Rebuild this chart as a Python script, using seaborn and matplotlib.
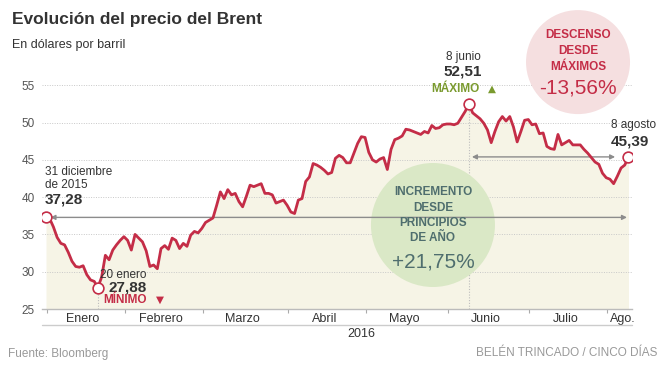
import numpy as np
import pandas as pd
import seaborn as sns
import matplotlib.pyplot as plt
from matplotlib.patches import Ellipse

# precio del Brent, un valor por dia habil (31 dic 2015 - 8 ago 2016)
fechas = pd.bdate_range('2015-12-31', '2016-08-08')
brent = [37.28, 37.1, 36.0, 34.6, 33.8, 33.6, 32.6, 31.4, 30.7, 30.6,
         30.8, 29.6, 28.9, 28.7, 27.88, 29.3, 32.2, 31.6, 32.9, 33.6,
         34.2, 34.7, 34.2, 32.9, 35.0, 34.5, 34.0, 32.8, 30.7, 30.9,
         30.4, 33.1, 33.5, 33.0, 34.5, 34.2, 33.1, 33.8, 33.4, 34.9,
         35.4, 35.2, 35.8, 36.6, 36.9, 37.2, 38.9, 40.7, 39.8, 41.0,
         40.3, 40.5, 39.4, 38.7, 40.1, 41.6, 41.4, 41.6, 41.8, 40.5,
         40.5, 40.3, 39.2, 39.4, 39.6, 38.9, 38.0, 37.8, 39.6, 39.8,
         42.1, 42.7, 44.5, 44.3, 44.0, 43.6, 43.1, 43.3, 45.2, 45.6,
         45.3, 44.6, 44.6, 45.9, 47.2, 48.1, 48.0, 46.0, 45.0, 44.7,
         45.1, 45.3, 43.7, 46.4, 47.7, 47.9, 48.2, 49.1, 49.0, 48.8,
         48.6, 48.4, 48.8, 48.6, 49.6, 49.2, 49.3, 49.7, 49.8, 49.8,
         49.7, 49.9, 50.7, 51.5, 52.51, 51.3, 50.9, 50.5, 49.9, 49.0,
         47.3, 48.8, 50.1, 50.8, 50.2, 50.8, 49.4, 47.4, 48.8, 50.3,
         50.4, 49.7, 49.8, 48.5, 48.6, 46.8, 46.5, 46.4, 48.4, 47.0,
         47.3, 47.6, 47.0, 47.0, 47.0, 46.4, 45.9, 45.3, 44.7, 44.4,
         43.2, 42.6, 42.4, 41.8, 42.8, 43.9, 44.3, 45.39]
meses = ['Enero', 'Febrero', 'Marzo', 'Abril', 'Mayo', 'Junio', 'Julio', 'Ago.']
yticks = [25, 30, 35, 40, 45, 50, 55]

df = pd.DataFrame({'fecha': fechas, 'brent': brent})
df['idx'] = np.arange(len(df))
df['mes'] = df['fecha'].dt.month
df['anio'] = df['fecha'].dt.year

ROJO = '#c42d47'
VERDE = '#7a9a2e'
TEAL = '#4f6e6e'
GRIS = '#333333'
NARROW = ['Liberation Sans Narrow', 'Liberation Sans', 'DejaVu Sans']
WIDE = ['Liberation Sans', 'DejaVu Sans']

sns.set_style('white')
plt.rcParams['font.family'] = NARROW

fig = plt.figure(figsize=(6.64, 3.65), dpi=100)
ax = fig.add_axes([42 / 664, 1 - 309 / 365, 590 / 664, 234 / 365])


def ftext(x, y, s, **kw):
    kw.setdefault('va', 'baseline')
    kw.setdefault('color', GRIS)
    fig.text(x / 664, 1 - y / 365, s, **kw)


ax.fill_between(df['idx'], df['brent'], 25, color='#f6f4e6', lw=0, zorder=1)
for v in yticks[1:]:
    ax.axhline(v, color='#c8c8c8', lw=0.7, ls=(0, (1, 1.5)), zorder=2)

# circulo verde (incremento)
ax.add_patch(Ellipse((104.3, 36.26), 124 / 3.71, 124 / 7.46, color='#dae8c6', lw=0, zorder=3))
# circulo rosa (descenso)
ax.add_patch(Ellipse((143.4, 58.1), 104 / 3.71, 104 / 7.46, color='#f5dfe0', lw=0,
                     zorder=3, clip_on=False))

i_min = int(df['brent'].idxmin())
i_max = int(df['brent'].idxmax())
ini = df.iloc[0]
fin = df.iloc[-1]

ax.vlines([i_min], 25, df['brent'][i_min] - 0.7, color='#bdbdbd', lw=0.8, ls=(0, (1, 1.5)), zorder=2)
ax.vlines([i_max], 25, df['brent'][i_max] - 0.7, color='#bdbdbd', lw=0.8, ls=(0, (1, 1.5)), zorder=2)

ax.annotate('', xy=(156.6, ini['brent']), xytext=(1.2, ini['brent']),
            arrowprops=dict(arrowstyle='<|-|>', color='#8c8c8c', lw=1.0,
                            mutation_scale=7, shrinkA=0, shrinkB=0), zorder=4)
ax.annotate('', xy=(153.4, fin['brent']), xytext=(114.8, fin['brent']),
            arrowprops=dict(arrowstyle='<|-|>', color='#8c8c8c', lw=1.0,
                            mutation_scale=7, shrinkA=0, shrinkB=0), zorder=4)

sns.lineplot(data=df, x='idx', y='brent', color=ROJO, lw=2.0, ax=ax, zorder=5)
puntos = df.iloc[[0, i_min, i_max, len(df) - 1]]
sns.scatterplot(data=puntos, x='idx', y='brent', s=60, color='white', edgecolor=ROJO,
                linewidth=1.2, ax=ax, zorder=6)

ax.set_xlim(-1.08, 157.95)
ax.set_ylim(25, 56.37)
ax.set_xlabel('')
ax.set_ylabel('')

ax.set_yticks(yticks)
ax.tick_params(axis='y', length=0, pad=5, labelsize=8.5, labelcolor='#555555')

m16 = df[df['anio'] == 2016]
limites = (m16.groupby('mes')['idx'].min() - 0.75).tolist()
centros = (m16.groupby('mes')['idx'].mean() - 1).tolist()
centros[-1] = df['idx'].max() - 1.5
ax.set_xticks(limites)
ax.set_xticklabels([])
ax.set_xticks(centros, minor=True)
ax.set_xticklabels(meses, minor=True)
ax.tick_params(axis='x', which='major', length=3, width=0.8, color='#aaaaaa', direction='out')
ax.tick_params(axis='x', which='minor', length=0, pad=3, labelsize=9, labelcolor=GRIS)
ax.tick_params(axis='x', bottom=True, which='both')

for s in ['top', 'right', 'left']:
    ax.spines[s].set_visible(False)
ax.spines['bottom'].set_color('#bbbbbb')
ax.spines['bottom'].set_linewidth(1)
ax.plot([0, 1], [-0.068, -0.068], transform=ax.transAxes, clip_on=False, color='#cccccc', lw=1)

# textos
ftext(12, 24, 'Evolución del precio del Brent', size=12.5, weight='bold')
ftext(12, 48, 'En dólares por barril', size=9, family=WIDE)
ftext(361, 337, '2016', size=9, ha='center')
ftext(8, 357, 'Fuente: Bloomberg', size=8.5, family=WIDE, color='#999999')
ftext(657, 356, 'BELÉN TRINCADO / CINCO DÍAS', size=8.5, family=WIDE, color='#999999', ha='right')

ftext(45, 175, '31 diciembre', size=8.5)
ftext(45, 188, 'de 2015', size=8.5)
ftext(45, 204, f"{ini['brent']:.2f}".replace('.', ','), size=11, weight='bold')

ftext(147, 278, '20 enero', size=8.5, ha='right')
ftext(147, 291, f"{df['brent'][i_min]:.2f}".replace('.', ','), size=11, weight='bold', ha='right')
ftext(103, 303, 'MÍNIMO', size=8.5, weight='bold', family=WIDE, color=ROJO)
ftext(160, 303, '▼', size=7.5, family=['DejaVu Sans'], color=ROJO, ha='center')

ftext(463, 60, '8 junio', size=8.5, ha='center')
ftext(463, 76, f"{df['brent'][i_max]:.2f}".replace('.', ','), size=11, weight='bold', ha='center')
ftext(480, 92, 'MÁXIMO', size=8.5, weight='bold', family=WIDE, color=VERDE, ha='right')
ftext(492, 92, '▲', size=7.5, family=['DejaVu Sans'], color=VERDE, ha='center')

ftext(634, 128, '8 agosto', size=8.5, ha='center')
ftext(630, 145, f"{fin['brent']:.2f}".replace('.', ','), size=11, weight='bold', ha='center')

ftext(578, 38, 'DESCENSO', size=8.5, weight='bold', family=WIDE, color=ROJO, ha='center')
ftext(578, 54, 'DESDE', size=8.5, weight='bold', family=WIDE, color=ROJO, ha='center')
ftext(578, 70, 'MÁXIMOS', size=8.5, weight='bold', family=WIDE, color=ROJO, ha='center')
ftext(578, 93, '-13,56%', size=15, family=WIDE, color=ROJO, ha='center')

ftext(433, 195, 'INCREMENTO', size=8.5, weight='bold', family=WIDE, color=TEAL, ha='center')
ftext(433, 211, 'DESDE', size=8.5, weight='bold', family=WIDE, color=TEAL, ha='center')
ftext(433, 226, 'PRINCIPIOS', size=8.5, weight='bold', family=WIDE, color=TEAL, ha='center')
ftext(433, 241, 'DE AÑO', size=8.5, weight='bold', family=WIDE, color=TEAL, ha='center')
ftext(433, 267, '+21,75%', size=15, family=WIDE, color=TEAL, ha='center')

fig.savefig('out.png', dpi=100)
